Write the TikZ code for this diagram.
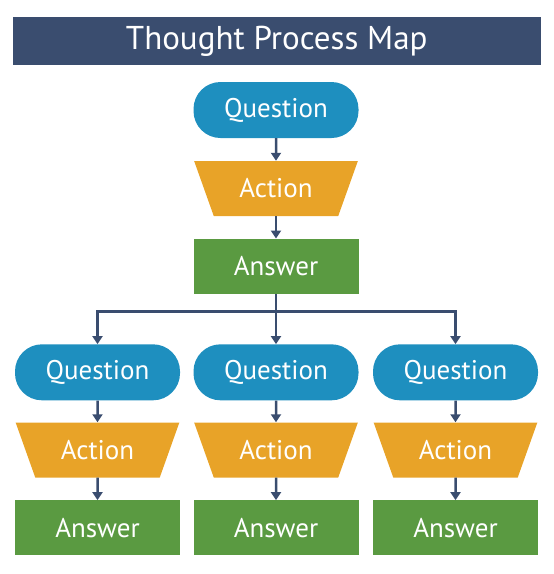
\documentclass[tikz,border=0pt]{standalone}
\usepackage{fontspec}
\setmainfont{PT Sans}
\usetikzlibrary{shapes.geometric, arrows.meta}

\definecolor{barblue}{RGB}{58,77,111}
\definecolor{askblue}{RGB}{30,143,191}
\definecolor{doorange}{RGB}{232,163,40}
\definecolor{replygreen}{RGB}{90,154,65}

\tikzset{
    titlebar/.style={rectangle, fill=barblue, text=white, minimum width=527.5pt, minimum height=48pt, inner sep=0pt, font=\fontsize{33}{38}\selectfont},
    question/.style={rectangle, rounded corners=27pt, fill=askblue, text=white, minimum width=165pt, minimum height=56pt, inner sep=0pt, font=\fontsize{27}{32}\selectfont},
    action/.style={trapezium, shape border rotate=180, trapezium angle=59.4, trapezium stretches=true, fill=doorange, text=white, minimum width=165pt, minimum height=55pt, inner sep=0pt, font=\fontsize{27}{32}\selectfont},
    answer/.style={rectangle, fill=replygreen, text=white, minimum width=165pt, minimum height=55pt, inner sep=0pt, font=\fontsize{27}{32}\selectfont},
    flow/.style={-{Triangle[width=10pt, length=8pt]}, line width=2.5pt, draw=barblue},
}

\begin{document}
\begin{tikzpicture}[x=1pt, y=-1pt]
        \useasboundingbox (0, 0) rectangle (554, 574);
        \node[titlebar] (title) at (276.75, 41) {Thought Process Map};

        \node[question] (q0) at (276, 110) {Question};
        \node[action] (a0) at (276, 188.5) {Action};
        \node[answer] (r0) at (276, 266.2) {Answer};
        \coordinate (split) at (276, 311.5);

        \node[question] (q1) at (97.5, 372.3) {Question};
        \node[action] (a1) at (97.5, 450) {Action};
        \node[answer] (r1) at (97.5, 527.8) {Answer};

        \node[question] (q2) at (276, 372.3) {Question};
        \node[action] (a2) at (276, 450) {Action};
        \node[answer] (r2) at (276, 527.8) {Answer};

        \node[question] (q3) at (455.5, 372.3) {Question};
        \node[action] (a3) at (455.5, 450) {Action};
        \node[answer] (r3) at (455.5, 527.8) {Answer};

        \draw[flow] (q0) -- (a0);
        \draw[flow] (a0) -- (r0);
        \draw[flow] (r0) -- (q2);
        \draw[flow] (split) -| (q1);
        \draw[flow] (split) -| (q3);
        \draw[flow] (q1) -- (a1);
        \draw[flow] (a1) -- (r1);
        \draw[flow] (q2) -- (a2);
        \draw[flow] (a2) -- (r2);
        \draw[flow] (q3) -- (a3);
        \draw[flow] (a3) -- (r3);
    \end{tikzpicture}
\end{document}
